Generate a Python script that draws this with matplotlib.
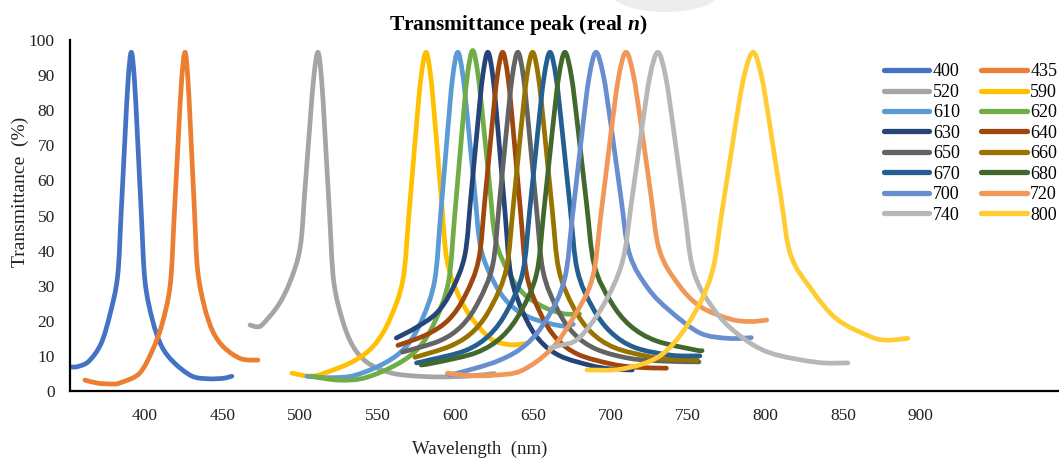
import matplotlib
matplotlib.use("Agg")
import matplotlib.pyplot as plt
from matplotlib.path import Path
from matplotlib.patches import PathPatch, Ellipse
from matplotlib.lines import Line2D

# peak labels (nm) and Excel-style series colours
labels = ["400", "435", "520", "590", "610", "620", "630", "640",
          "650", "660", "670", "680", "700", "720", "740", "800"]
colors = ["#4472C4", "#ED7D31", "#A5A5A5", "#FFC000", "#5B9BD5", "#70AD47",
          "#264478", "#9E480E", "#636363", "#997300", "#255E91", "#43682B",
          "#698ED0", "#F1975A", "#B7B7B7", "#FFCD33"]

# curves (wavelength nm, transmittance %)
x400 = [352, 357, 363.9, 371.7, 377.5, 382.4, 384.7, 387.3, 389.25, 391.2, 393.15, 395.1, 397.7, 400, 404.85, 410.7, 418.5, 430, 440, 450, 456]
y400 = [6.8, 7.0, 8.5, 13.5, 21.9, 32.8, 51, 73.8, 89.2, 96.5, 89.1, 73.25, 50, 31.4, 20.2, 12.8, 8.2, 4.3, 3.5, 3.6, 4.2]

x435 = [361.3, 370, 379, 383.8, 396.4, 404.8, 411.1, 416.35, 418.8, 421.6, 423.7, 425.8, 427.6, 429.4, 431.8, 433.9, 438.4, 443.8, 451, 461.8, 472.8]
y435 = [3.1, 2.2, 2.0, 2.3, 5.0, 11.6, 19.2, 30.5, 49.4, 72.9, 89, 96.5, 89.4, 74.4, 52.3, 34.6, 23.9, 16.9, 12.4, 9.2, 8.8]

x520 = [467.7, 472, 475.8, 486, 493.65, 500, 503, 506.4, 508.95, 511.5, 513.75, 516, 519, 521.6, 527.25, 534, 543, 556.5, 570, 590, 610, 625]
y520 = [18.8, 18.3, 19.0, 24.5, 31.3, 40.85, 56.75, 76.6, 90.1, 96.5, 89.1, 73.25, 50, 31.4, 20.2, 12.8, 8.2, 5.4, 4.4, 4.0, 4.3, 5.0]

x590 = [494.7, 506, 515.1, 534.9, 548.1, 558, 566.25, 570.1, 574.5, 577.8, 581.1, 584.1, 587.1, 591.1, 594.6, 602.1, 611.1, 623.1, 635, 645]
y590 = [5.1, 4.2, 5.0, 8.6, 13.25, 20.65, 31.75, 50.25, 73.4, 89.1, 96.5, 89.7, 75.4, 54.25, 37.35, 27.2, 20.45, 14.8, 13.2, 13.5]

x610 = [504.4, 520, 535.5, 555.3, 568.5, 578.4, 586.65, 590.5, 594.9, 598.2, 601.5, 604.8, 608.1, 612.5, 616.35, 624.6, 634.5, 647.7, 667.5, 676]
y610 = [4.2, 3.8, 4.5, 8.15, 12.8, 20.2, 31.4, 50, 73.25, 89.1, 96.5, 90.1, 76.6, 56.75, 40.85, 31.3, 24.95, 21, 18.6, 19]

x620 = [507, 525, 542.1, 562.8, 576.6, 586.95, 595.6, 599.6, 604.2, 607.65, 611.1, 614.4, 617.7, 622.1, 625.95, 634.2, 644.1, 657.3, 670, 680]
y620 = [4.2, 3.1, 3.8, 7.7, 12.4, 19.9, 31.2, 50, 73.5, 89.5, 97, 90.8, 77.75, 58.5, 43.1, 33.9, 27.7, 23.85, 22, 22]

x630 = [562, 574.8, 588, 597.9, 606.15, 610, 614.4, 617.7, 621, 624.3, 627.6, 632, 635.85, 644.1, 654, 667.2, 687, 700, 714]
y630 = [15.1, 18.1, 22.25, 28.85, 38.75, 55.25, 75.9, 89.9, 96.5, 89.2, 73.75, 51, 32.8, 21.9, 14.6, 10.05, 7.3, 6.3, 6.0]

x640 = [563, 582.2, 596, 606.35, 615, 619, 623.6, 627.05, 630.5, 633.95, 637.4, 642, 646, 654.65, 665, 678.8, 699.5, 715, 736]
y640 = [13, 16.2, 20.45, 27.2, 37.35, 54.25, 75.4, 89.7, 96.5, 89.3, 73.9, 51.25, 33.15, 22.3, 15.05, 10.5, 7.8, 6.8, 6.5]

x650 = [566, 589.9, 604.3, 615.1, 624.1, 628.3, 633.1, 636.7, 640.3, 643.9, 647.5, 652.3, 656.5, 665.5, 676.3, 690.7, 712.3, 735, 757]
y650 = [11.1, 14.3, 18.65, 25.6, 35.95, 53.25, 74.9, 89.6, 96.5, 89.4, 74.25, 52, 34.2, 23.5, 16.4, 11.95, 9.3, 8.5, 8.3]

x660 = [574, 597.3, 612.3, 623.55, 632.9, 637.3, 642.3, 646.05, 649.8, 653.55, 657.3, 662.3, 666.7, 676.05, 687.3, 702.3, 724.8, 740, 756]
y660 = [9.6, 12.9, 17.3, 24.35, 34.9, 52.5, 74.5, 89.5, 96.5, 89.4, 74.4, 52.25, 34.55, 23.9, 16.85, 12.4, 9.8, 9.0, 8.8]

x670 = [575, 583, 606.4, 622, 633.7, 643.45, 648, 653.2, 657.1, 661, 664.9, 668.8, 674, 678.55, 688.3, 700, 715.6, 739, 757.6]
y670 = [8.0, 8.8, 11.5, 15.95, 23.1, 33.85, 51.75, 74.1, 89.3, 96.5, 89.4, 74.4, 52.25, 34.55, 23.9, 16.85, 12.4, 10.2, 10.0]

x680 = [578, 589.6, 613.9, 630.1, 642.25, 652.4, 657.1, 662.5, 666.55, 670.6, 674.8, 679, 684.6, 689.5, 700, 712.6, 729.4, 754.6, 759]
y680 = [7.4, 8.3, 11, 15.5, 22.7, 33.5, 51.5, 74, 89.3, 96.5, 89.6, 74.9, 53.25, 35.95, 25.6, 18.65, 14.3, 11.7, 11.5]

x700 = [595, 600.6, 627.6, 645.6, 659.1, 670.35, 675.6, 681.6, 686.1, 690.6, 695.4, 700.2, 706.6, 712.2, 724.2, 738.6, 757.8, 776, 790.7]
y700 = [4.8, 5.0, 8.6, 13.25, 20.65, 31.75, 50.25, 73.4, 89.1, 96.5, 89.9, 76, 55.5, 39.1, 29.25, 22.7, 16.5, 15, 15.2]

x720 = [595, 610, 625, 642.7, 661.9, 676.3, 688.3, 693.9, 700.3, 705.1, 709.9, 714.7, 719.5, 725.9, 731.5, 743.5, 757.9, 777.1, 790, 800.7]
y720 = [5.1, 4.4, 4.5, 5.8, 12, 21.1, 32.1, 50.5, 73.5, 89.1, 96.5, 90.1, 76.4, 56.25, 40.15, 30.5, 24.05, 20.5, 19.8, 20.2]

x740 = [661, 667.5, 679.5, 694.8, 707.55, 713.5, 720.3, 725.4, 730.5, 735.6, 740.7, 747.5, 753.45, 766.2, 781.5, 801.9, 832.5, 853]
y740 = [12.3, 13, 15, 24, 36.65, 53.75, 75.1, 89.7, 96.5, 89.4, 74.25, 52, 34.2, 23.5, 16.4, 11, 8.2, 8]

x800 = [684.8, 707.8, 731.8, 749.8, 764.8, 771.8, 779.8, 785.8, 791.8, 797.2, 802.6, 809.8, 816.1, 829.6, 845.8, 867.4, 878, 891.6]
y800 = [6, 6.3, 10, 19, 32.8, 51, 73.75, 89.2, 96.5, 89.9, 75.9, 55.25, 38.75, 28.85, 20.5, 15.5, 14.5, 15]

xs = [x400, x435, x520, x590, x610, x620, x630, x640,
      x650, x660, x670, x680, x700, x720, x740, x800]
ys = [y400, y435, y520, y590, y610, y620, y630, y640,
      y650, y660, y670, y680, y700, y720, y740, y800]

x_ticks = [400, 450, 500, 550, 600, 650, 700, 750, 800, 850, 900]
y_ticks = [0, 10, 20, 30, 40, 50, 60, 70, 80, 90, 100]


def smooth_path(x, y):
    # Excel-like "smoothed line": Catmull-Rom through the points as Bezier segments
    pts = list(zip(x, y))
    n = len(pts)
    verts = [pts[0]]
    codes = [Path.MOVETO]
    for i in range(n - 1):
        p0 = pts[i - 1] if i > 0 else pts[i]
        p1 = pts[i]
        p2 = pts[i + 1]
        p3 = pts[i + 2] if i + 2 < n else pts[i + 1]
        c1 = (p1[0] + (p2[0] - p0[0]) / 6, p1[1] + (p2[1] - p0[1]) / 6)
        c2 = (p2[0] - (p3[0] - p1[0]) / 6, p2[1] - (p3[1] - p1[1]) / 6)
        verts += [c1, c2, p2]
        codes += [Path.CURVE4] * 3
    return Path(verts, codes)


plt.rcParams["font.family"] = ["Liberation Serif", "DejaVu Serif"]
plt.rcParams["mathtext.fontset"] = "custom"
plt.rcParams["mathtext.rm"] = "Liberation Serif"
plt.rcParams["mathtext.it"] = "Liberation Serif:italic"
plt.rcParams["mathtext.bf"] = "Liberation Serif:bold"
plt.rcParams["mathtext.bfit"] = "Liberation Serif:italic:bold"

fig = plt.figure(figsize=(10.59, 4.62), dpi=100)

# faint grey blob at the top edge of the original image
fig.patches.append(Ellipse((665 / 1059, 1 + 8 / 462), 110 / 1059, 40 / 462,
                           transform=fig.transFigure, color="#EDEDED", lw=0))

ax = fig.add_axes([70 / 1059, 1 - 391 / 462, 1 - 70 / 1059, (391 - 40) / 462])
ax.patch.set_alpha(0)

LW = 3.4
handles = []
for x, y, lab, c in zip(xs, ys, labels, colors):
    ax.add_patch(PathPatch(smooth_path(x, y), fill=False, edgecolor=c, lw=LW,
                           capstyle="round", joinstyle="round"))
    handles.append(Line2D([], [], color=c, lw=LW + 0.4, solid_capstyle="round"))

ax.set_xlim(351.7, 989)
ax.set_ylim(0, 100)
ax.set_xticks(x_ticks)
ax.set_yticks(y_ticks)
ax.tick_params(length=0, labelsize=12.5, colors="#222222")
ax.tick_params(axis="x", pad=12)
ax.tick_params(axis="y", pad=11)
for s in ["top", "right"]:
    ax.spines[s].set_visible(False)
for s in ["left", "bottom"]:
    ax.spines[s].set_linewidth(1.6)
    ax.spines[s].set_color("black")

ax.set_xlabel("Wavelength  (nm)", fontsize=13.5, color="#222222")
ax.xaxis.set_label_coords((480 - 70) / (1059 - 70), -(441 - 391) / (391 - 40))
ax.set_ylabel("Transmittance  (%)", fontsize=14, color="#222222")
ax.yaxis.set_label_coords(-(70 - 29) / (1059 - 70), (391 - 192) / (391 - 40))

fig.text(518 / 1059, 1 - 25 / 462, r"Transmittance peak (real $\mathbfit{n}$)",
         ha="center", va="center", fontsize=15.5, fontweight="bold")

# legend filled row by row (two columns)
order = [0, 2, 4, 6, 8, 10, 12, 14, 1, 3, 5, 7, 9, 11, 13, 15]
ax.legend([handles[i] for i in order], [labels[i] for i in order],
          ncol=2, frameon=False, fontsize=13,
          loc="upper left", bbox_to_anchor=(884 / 1059, 1 - 63.5 / 462),
          bbox_transform=fig.transFigure, borderpad=0, borderaxespad=0,
          handlelength=2.5, handletextpad=0.2, columnspacing=1.2,
          labelspacing=0.19)

fig.savefig("out.png", dpi=100)
